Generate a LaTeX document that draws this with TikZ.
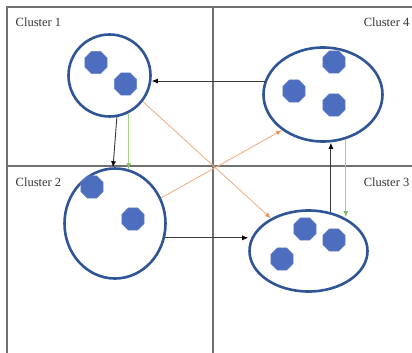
\documentclass[tikz,border=0pt]{standalone}
\usepackage{fontspec}
\setmainfont{Liberation Serif}
\usetikzlibrary{shapes.geometric,arrows.meta}
\definecolor{frameG}{HTML}{707070}
\definecolor{ringB}{HTML}{2F5597}
\definecolor{dotB}{HTML}{4D6DBF}
\definecolor{dotE}{HTML}{6682C8}
\definecolor{orangeL}{HTML}{F2B088}
\definecolor{orangeH}{HTML}{EC955B}
\definecolor{greenL}{HTML}{A6CF8A}
\definecolor{greenH}{HTML}{86B86A}
\definecolor{arrG}{HTML}{3A3A3A}
\tikzset{
  frameline/.style={draw=frameG, line width=1.3pt},
  cluster/.style={ellipse, draw=ringB, line width=2.6pt, fill=white, inner sep=0pt},
  dot/.style={regular polygon, regular polygon sides=8, minimum size=24pt, inner sep=0pt, fill=dotB, draw=dotE, line width=0.5pt},
  lbl/.style={font=\fontsize{12.5}{14}\selectfont, text=black!80, inner sep=0pt},
  blackarr/.style={draw=arrG, line width=0.9pt, -{Latex[length=6pt,width=5pt,color=black]}},
  orangearr/.style={draw=orangeL, line width=0.9pt, -{Latex[length=6pt,width=5pt,color=orangeH]}},
  greenarr/.style={draw=greenL, line width=0.9pt, -{Latex[length=6pt,width=5pt,color=greenH]}}
}
\begin{document}
\begin{tikzpicture}[x=1pt,y=-1pt]
\useasboundingbox (0,0) rectangle (412,353);
% frame and dividers
\draw[frameline] (7,353) -- (7,7) -- (412,7);
\draw[frameline] (213,7) -- (213,353);
\draw[frameline] (7,166) -- (412,166);
% labels
\node[lbl, anchor=base west] (l1) at (15.5,27) {Cluster 1};
\node[lbl, anchor=base east] (l4) at (409.5,27) {Cluster 4};
\node[lbl, anchor=base west] (l2) at (15.5,186) {Cluster 2};
\node[lbl, anchor=base east] (l3) at (409.5,186) {Cluster 3};
% clusters
\node[cluster, minimum width=82pt, minimum height=82pt] (c1) at (109.5,75.5) {};
\node[cluster, minimum width=101pt, minimum height=110pt] (c2) at (115,223.5) {};
\node[cluster, minimum width=119pt, minimum height=94pt] (c4) at (323,94.5) {};
\node[cluster, minimum width=118pt, minimum height=81pt] (c3) at (308.5,251) {};
% dots
\node[dot] (d11) at (96,62.5) {};
\node[dot] (d12) at (125.5,84) {};
\node[dot] (d21) at (92,187) {};
\node[dot] (d22) at (133,219) {};
\node[dot] (d41) at (334,62) {};
\node[dot] (d42) at (294,91) {};
\node[dot] (d43) at (334,105) {};
\node[dot] (d31) at (305,229) {};
\node[dot] (d32) at (334,240) {};
\node[dot] (d33) at (282,259) {};
% connectors
\draw[blackarr] (c4.167) -- (c4.167 -| c1.east);
\draw[blackarr] (c1.-80) -- (c2.92);
\draw[greenarr] (c1.-63) -- (c1.-63 |- c2.75);
\draw[orangearr] (c1.-38.6) -- (c3.139.3);
\draw[orangearr] (c2.29.4) -- (c4.221);
\draw[blackarr] (c2.-16.6) -- (c2.-16.6 -| c3.west);
\draw[blackarr] (c3.60) -- (c3.60 |- c4.south);
\draw[greenarr] (c4.-63) -- (c4.-63 |- c3.44);
\end{tikzpicture}
\end{document}
